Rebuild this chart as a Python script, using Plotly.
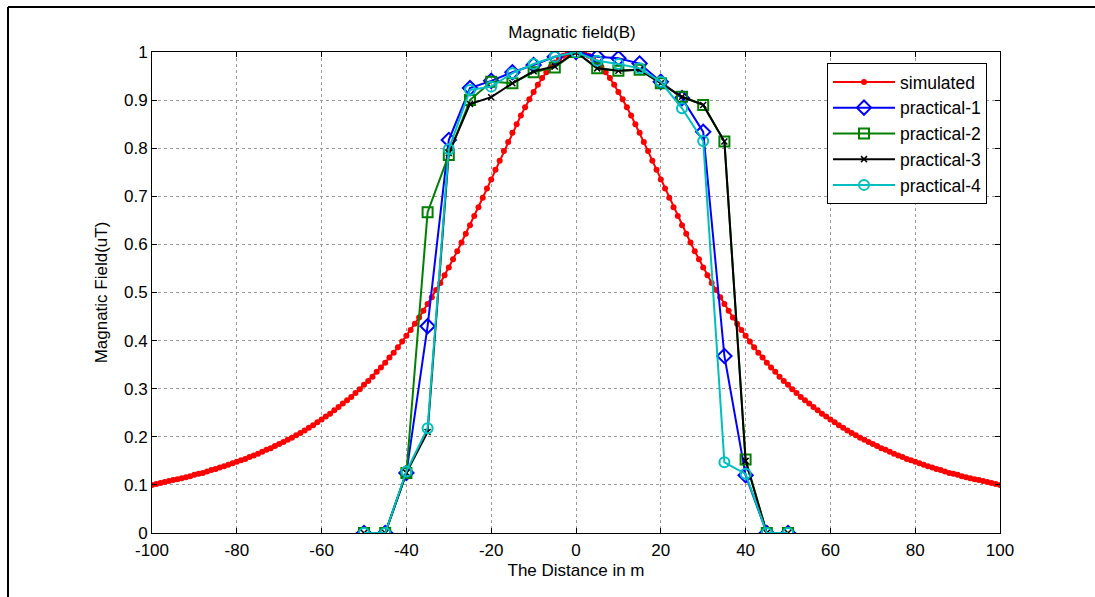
import plotly.graph_objects as go

# Simulated field along the line, 1 m spacing from -100 m to 100 m
sim_distance = list(range(-100, 101))
sim_field = [
    0.100, 0.102, 0.104, 0.106, 0.108, 0.110, 0.112, 0.114, 0.116, 0.118,
    0.121, 0.123, 0.125, 0.128, 0.131, 0.133, 0.136, 0.139, 0.142, 0.145,
    0.148, 0.151, 0.154, 0.158, 0.161, 0.165, 0.169, 0.173, 0.176, 0.181,
    0.185, 0.189, 0.194, 0.198, 0.203, 0.208, 0.213, 0.219, 0.224, 0.230,
    0.236, 0.242, 0.248, 0.255, 0.262, 0.269, 0.276, 0.283, 0.291, 0.299,
    0.308, 0.316, 0.325, 0.335, 0.344, 0.354, 0.365, 0.375, 0.386, 0.398,
    0.410, 0.422, 0.435, 0.448, 0.462, 0.476, 0.490, 0.505, 0.520, 0.536,
    0.552, 0.569, 0.586, 0.604, 0.622, 0.640, 0.659, 0.677, 0.697, 0.716,
    0.735, 0.755, 0.774, 0.794, 0.813, 0.832, 0.850, 0.868, 0.885, 0.902,
    0.917, 0.932, 0.946, 0.958, 0.969, 0.978, 0.986, 0.992, 0.996, 0.999,
    1.000, 0.999, 0.996, 0.992, 0.986, 0.978, 0.969, 0.958, 0.946, 0.932,
    0.917, 0.902, 0.885, 0.868, 0.850, 0.832, 0.813, 0.794, 0.774, 0.755,
    0.735, 0.716, 0.697, 0.677, 0.659, 0.640, 0.622, 0.604, 0.586, 0.569,
    0.552, 0.536, 0.520, 0.505, 0.490, 0.476, 0.462, 0.448, 0.435, 0.422,
    0.410, 0.398, 0.386, 0.375, 0.365, 0.354, 0.344, 0.335, 0.325, 0.316,
    0.308, 0.299, 0.291, 0.283, 0.276, 0.269, 0.262, 0.255, 0.248, 0.242,
    0.236, 0.230, 0.224, 0.219, 0.213, 0.208, 0.203, 0.198, 0.194, 0.189,
    0.185, 0.181, 0.176, 0.173, 0.169, 0.165, 0.161, 0.158, 0.154, 0.151,
    0.148, 0.145, 0.142, 0.139, 0.136, 0.133, 0.131, 0.128, 0.125, 0.123,
    0.121, 0.118, 0.116, 0.114, 0.112, 0.110, 0.108, 0.106, 0.104, 0.102,
    0.100,
]

# Measured field, 5 m spacing
meas_distance = [-50, -45, -40, -35, -30, -25, -20, -15, -10, -5, 0,
                 5, 10, 15, 20, 25, 30, 35, 40, 45, 50]
practical_1 = [0, 0, 0.125, 0.430, 0.817, 0.925, 0.940, 0.958, 0.973, 0.990, 1.0,
               0.990, 0.987, 0.976, 0.938, 0.904, 0.834, 0.368, 0.120, 0, 0]
practical_2 = [0, 0, 0.125, 0.667, 0.786, 0.900, 0.938, 0.935, 0.958, 0.968, 1.0,
               0.966, 0.961, 0.963, 0.935, 0.907, 0.890, 0.814, 0.153, 0, 0]
practical_3 = [0, 0, 0.125, 0.210, 0.790, 0.892, 0.906, 0.935, 0.960, 0.970, 1.0,
               0.966, 0.961, 0.963, 0.935, 0.907, 0.890, 0.814, 0.150, 0, 0]
practical_4 = [0, 0, 0.128, 0.218, 0.798, 0.921, 0.928, 0.956, 0.975, 0.990, 1.0,
               0.982, 0.975, 0.966, 0.938, 0.883, 0.815, 0.147, 0.123, 0, 0]

x_ticks = [-100, -80, -60, -40, -20, 0, 20, 40, 60, 80, 100]
x_tick_text = ["-100", "-80", "-60", "-40", "-20", "0", "20", "40", "60", "80", "100"]
y_ticks = [0, 0.1, 0.2, 0.3, 0.4, 0.5, 0.6, 0.7, 0.8, 0.9, 1]
y_tick_text = ["0", "0.1", "0.2", "0.3", "0.4", "0.5", "0.6", "0.7", "0.8", "0.9", "1"]

FONT = "Liberation Sans, Arial, sans-serif"
FS = 17

fig = go.Figure()

fig.add_trace(go.Scatter(
    x=sim_distance, y=sim_field, name="simulated", mode="lines+markers",
    line=dict(color="#ff0000", width=2),
    marker=dict(symbol="circle", size=6, color="#ff0000"),
))

measured = [
    ("practical-1", practical_1, "#0000ff", "diamond-open", 11, 2),
    ("practical-2", practical_2, "#008000", "square-open", 10, 2),
    ("practical-3", practical_3, "#000000", "x-thin-open", 6, 1.5),
    ("practical-4", practical_4, "#00bfbf", "circle-open", 10, 2),
]
for name, vals, color, symbol, size, mlw in measured:
    fig.add_trace(go.Scatter(
        x=meas_distance, y=vals, name=name, mode="lines+markers",
        line=dict(color=color, width=2),
        marker=dict(symbol=symbol, size=size, color=color,
                    line=dict(color=color, width=mlw)),
    ))

axis_common = dict(
    showline=True, linecolor="black", linewidth=1, mirror="ticks",
    ticks="inside", ticklen=5, tickcolor="black",
    showgrid=True, gridcolor="#9a9a9a", griddash="dot", gridwidth=1,
    zeroline=False, tickfont=dict(family=FONT, size=FS, color="black"),
)

fig.update_layout(
    width=1095, height=597,
    margin=dict(l=152, r=95, t=52, b=64),
    paper_bgcolor="white", plot_bgcolor="white",
    font=dict(family=FONT, size=FS, color="black"),
    title=dict(text="Magnatic field(B)", x=(572 - 152) / 848, xref="paper",
               xanchor="center", y=1 - 32 / 597, yanchor="middle",
               font=dict(family=FONT, size=FS, color="black")),
    xaxis=dict(range=[-100, 100], tickvals=x_ticks, ticktext=x_tick_text,
               ticklabelstandoff=2,
               title=dict(text="The Distance in m", standoff=4,
                          font=dict(family=FONT, size=FS)),
               **axis_common),
    yaxis=dict(range=[0, 1], tickvals=y_ticks, ticktext=y_tick_text,
               title=dict(text="Magnatic Field(uT)", standoff=12,
                          font=dict(family=FONT, size=FS)),
               **axis_common),
    showlegend=True,
    legend=dict(x=(827 - 152) / 848, y=(533 - 63) / 481, xanchor="left", yanchor="top",
                bgcolor="white", bordercolor="black", borderwidth=1,
                font=dict(family=FONT, size=17.5, color="black"),
                tracegroupgap=0, itemwidth=62),
    shapes=[
        dict(type="line", xref="paper", yref="paper",
             x0=(8 - 152) / 848, x1=(8 - 152) / 848,
             y0=(533 - 7) / 481, y1=-0.2,
             line=dict(color="black", width=2)),
        dict(type="line", xref="paper", yref="paper",
             x0=(8 - 152) / 848, x1=1.2,
             y0=(533 - 7) / 481, y1=(533 - 7) / 481,
             line=dict(color="black", width=2)),
    ],
)

fig.write_html("out.html")
